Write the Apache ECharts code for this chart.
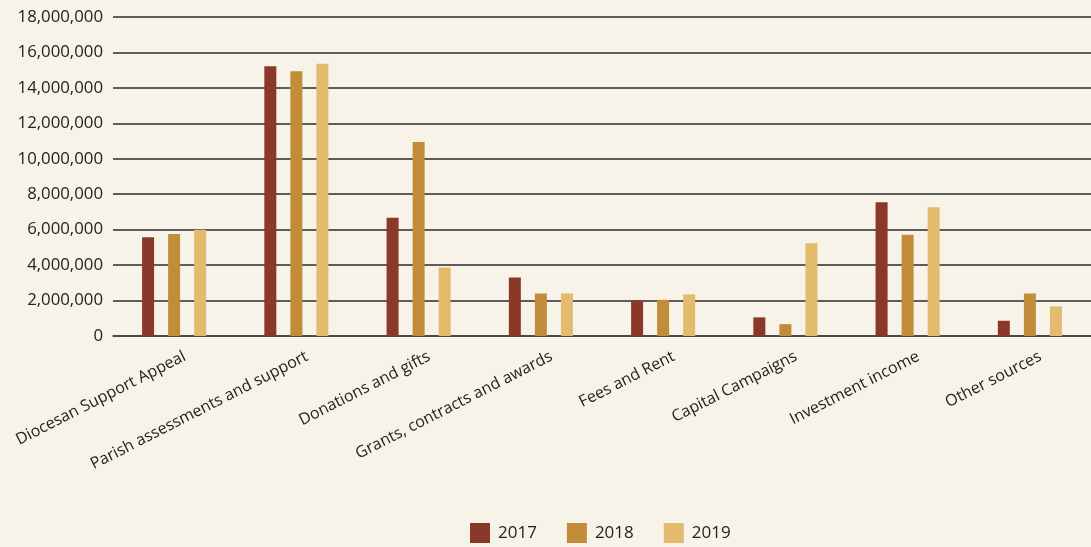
<!DOCTYPE html>
<html><head><meta charset="utf-8">
<script src="https://cdn.jsdelivr.net/npm/echarts@6/dist/echarts.min.js"></script>
<style>html,body{margin:0;padding:0;background:#f8f3e8;}#c{width:1091px;height:547px;}</style>
</head><body><div id="c"></div>
<script>
const categories = ["Diocesan Support Appeal","Parish assessments and support","Donations and gifts","Grants, contracts and awards","Fees and Rent","Capital Campaigns","Investment income","Other sources"];
const years = ["2017","2018","2019"];
const v2017 = [5570000,15220000,6670000,3300000,2000000,1050000,7550000,860000];
const v2018 = [5750000,14940000,10950000,2400000,2040000,670000,5720000,2400000];
const v2019 = [6000000,15360000,3860000,2400000,2350000,5230000,7270000,1670000];
const colors = ["#8a3829","#c28c3b","#e2bb6c"];
const values = [v2017, v2018, v2019];
const font = "'Open Sans', sans-serif";
const chart = echarts.init(document.getElementById('c'));
chart.setOption({
  backgroundColor: "#f8f3e8",
  animation: false,
  grid: {left: 113, right: 0, top: 17, bottom: 211},
  legend: {
    top: 523, left: 470, padding: 0, itemWidth: 20, itemHeight: 20, itemGap: 30,
    icon: 'rect',
    textStyle: {fontFamily: font, fontSize: 17, color: '#222', padding: [3,0,0,3]},
    data: years
  },
  xAxis: {
    type: 'category', data: categories,
    axisLine: {lineStyle: {color: '#444', width: 1.5}},
    axisTick: {show: false},
    axisLabel: {rotate: 27, interval: 0, fontFamily: font, fontSize: 16, color: '#222', margin: 25,
      padding: [0, -12, 0, 0]}
  },
  yAxis: {
    type: 'value', min: 0, max: 18000000, interval: 2000000,
    axisLine: {show: false}, axisTick: {show: false},
    splitLine: {lineStyle: {color: '#2a2a2a', width: 1.5}},
    axisLabel: {fontFamily: font, fontSize: 16.8, color: '#222', margin: 10,
      formatter: v => v.toLocaleString('en-US')}
  },
  series: years.map((y, i) => ({
    name: y, type: 'bar', data: values[i], barWidth: 12, barGap: '117%',
    itemStyle: {color: colors[i]}
  }))
});
</script></body></html>
